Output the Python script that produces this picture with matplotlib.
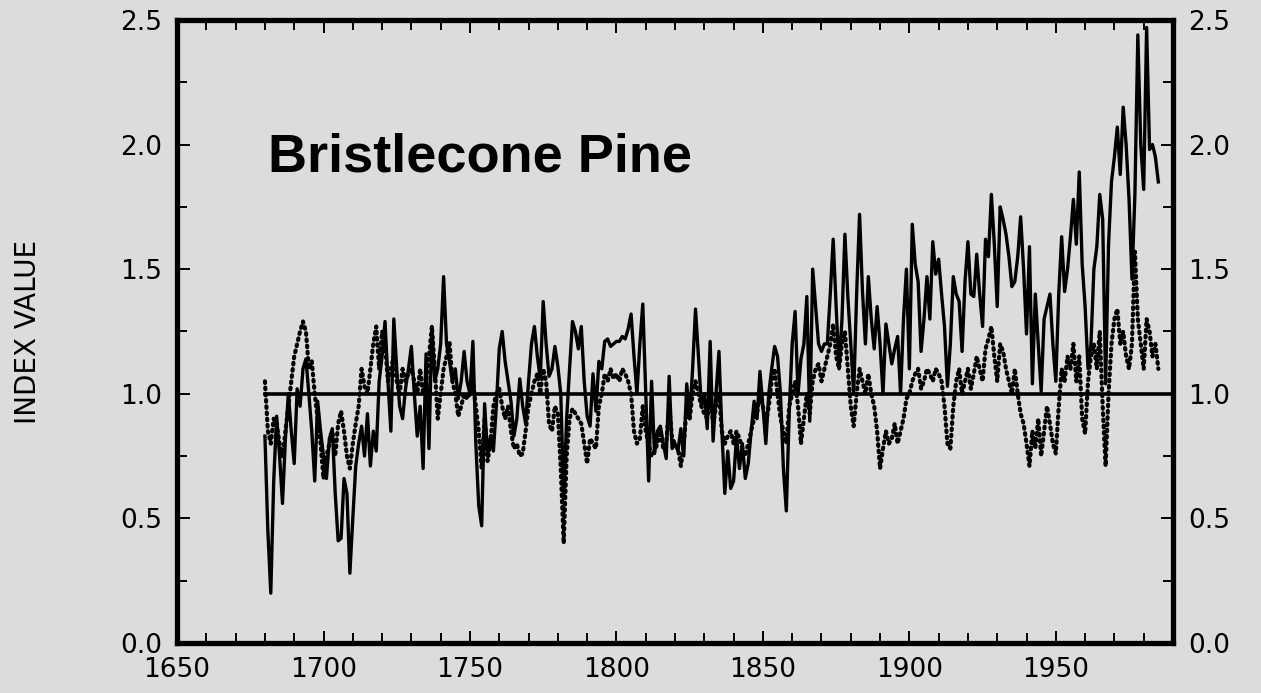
import matplotlib
matplotlib.use('Agg')
import matplotlib.pyplot as plt
import numpy as np

# Dane (indeks roczny, 1680-1985)
years = np.arange(1680, 1986)

solid_index = [
    0.83, 0.45, 0.20, 0.65, 0.91, 0.75, 0.56, 0.82, 1.00, 0.85,   # 1680
    0.72, 1.02, 0.95, 1.10, 1.14, 1.00, 0.85, 0.65, 0.97, 0.85,   # 1690
    0.75, 0.66, 0.82, 0.86, 0.60, 0.41, 0.42, 0.66, 0.60, 0.28,   # 1700
    0.50, 0.71, 0.80, 0.87, 0.75, 0.92, 0.71, 0.85, 0.77, 1.05,   # 1710
    1.15, 1.29, 1.05, 0.85, 1.30, 1.10, 0.95, 0.90, 1.02, 1.10,   # 1720
    1.19, 1.00, 0.83, 0.95, 0.70, 1.16, 0.78, 1.27, 1.05, 1.10,   # 1730
    1.20, 1.47, 1.20, 1.13, 1.05, 1.10, 0.98, 1.05, 1.17, 1.05,   # 1740
    1.00, 1.21, 0.80, 0.55, 0.47, 0.96, 0.75, 0.83, 0.77, 0.95,   # 1750
    1.18, 1.25, 1.13, 1.05, 0.97, 0.83, 0.90, 1.06, 0.95, 0.88,   # 1760
    1.05, 1.20, 1.27, 1.15, 1.06, 1.37, 1.20, 1.07, 1.10, 1.19,   # 1770
    1.11, 1.00, 0.58, 0.90, 1.10, 1.29, 1.25, 1.18, 1.27, 1.05,   # 1780
    0.91, 0.87, 1.08, 0.93, 1.13, 1.10, 1.21, 1.22, 1.19, 1.20,   # 1790
    1.21, 1.21, 1.23, 1.22, 1.26, 1.32, 1.15, 1.00, 1.20, 1.36,   # 1800
    1.00, 0.65, 1.05, 0.76, 0.85, 0.87, 0.80, 0.74, 1.07, 0.78,   # 1810
    0.80, 0.77, 0.86, 0.75, 1.04, 0.90, 1.10, 1.34, 1.15, 0.95,   # 1820
    1.00, 0.86, 1.21, 0.81, 1.00, 1.17, 0.85, 0.60, 0.77, 0.62,   # 1830
    0.65, 0.83, 0.70, 0.80, 0.66, 0.72, 0.85, 0.97, 0.90, 1.09,   # 1840
    0.95, 0.80, 1.00, 1.10, 1.19, 1.15, 1.00, 0.70, 0.53, 0.93,   # 1850
    1.20, 1.33, 1.00, 1.14, 1.20, 1.39, 0.89, 1.50, 1.35, 1.20,   # 1860
    1.17, 1.20, 1.20, 1.40, 1.62, 1.35, 1.10, 1.30, 1.64, 1.39,   # 1870
    1.20, 1.00, 1.40, 1.72, 1.41, 1.20, 1.47, 1.30, 1.18, 1.35,   # 1880
    1.20, 1.00, 1.28, 1.20, 1.12, 1.18, 1.23, 1.00, 1.30, 1.50,   # 1890
    1.10, 1.68, 1.52, 1.45, 1.17, 1.30, 1.47, 1.30, 1.61, 1.48,   # 1900
    1.54, 1.40, 1.27, 1.03, 1.20, 1.47, 1.40, 1.37, 1.17, 1.45,   # 1910
    1.61, 1.40, 1.39, 1.56, 1.40, 1.27, 1.62, 1.55, 1.80, 1.60,   # 1920
    1.35, 1.75, 1.70, 1.64, 1.55, 1.43, 1.45, 1.55, 1.71, 1.50,   # 1930
    1.24, 1.59, 1.04, 1.40, 1.20, 1.01, 1.30, 1.35, 1.40, 1.20,   # 1940
    1.05, 1.40, 1.63, 1.41, 1.50, 1.63, 1.78, 1.60, 1.89, 1.52,   # 1950
    1.35, 1.10, 1.20, 1.50, 1.59, 1.80, 1.70, 1.04, 1.60, 1.85,   # 1960
    1.95, 2.07, 1.88, 2.15, 2.00, 1.78, 1.46, 1.80, 2.44, 2.00,   # 1970
    1.82, 2.47, 1.98, 2.00, 1.95, 1.85,                           # 1980
]

dotted_index = [
    1.05, 0.85, 0.80, 0.90, 0.88, 0.80, 0.75, 0.85, 0.95, 1.05,   # 1680
    1.15, 1.20, 1.25, 1.29, 1.25, 1.10, 1.13, 1.00, 0.90, 0.80,   # 1690
    0.66, 0.75, 0.80, 0.85, 0.75, 0.88, 0.93, 0.85, 0.75, 0.70,   # 1700
    0.80, 0.88, 0.95, 1.10, 1.03, 1.00, 1.10, 1.20, 1.27, 1.10,   # 1710
    1.25, 1.20, 1.05, 1.10, 1.15, 1.05, 1.00, 1.10, 1.05, 1.08,   # 1720
    1.10, 1.05, 1.00, 1.10, 1.00, 1.05, 1.15, 1.27, 1.10, 0.90,   # 1730
    1.00, 1.10, 1.15, 1.21, 1.05, 1.00, 0.91, 0.95, 1.00, 0.98,   # 1740
    1.00, 1.05, 0.95, 0.85, 0.70, 0.90, 0.73, 0.80, 0.95, 1.00,   # 1750
    1.02, 0.95, 0.90, 0.95, 0.85, 0.78, 0.80, 0.75, 0.76, 0.85,   # 1760
    0.95, 1.00, 1.05, 1.08, 1.00, 1.10, 1.05, 0.88, 0.85, 0.95,   # 1770
    0.92, 0.70, 0.40, 0.75, 0.90, 0.94, 0.92, 0.90, 0.88, 0.80,   # 1780
    0.72, 0.82, 0.80, 0.78, 0.95, 1.00, 1.08, 1.05, 1.10, 1.06,   # 1790
    1.08, 1.05, 1.10, 1.08, 1.05, 1.00, 0.85, 0.80, 0.82, 0.95,   # 1800
    0.85, 0.80, 0.75, 0.77, 0.80, 0.85, 0.78, 0.80, 0.95, 0.82,   # 1810
    0.80, 0.78, 0.71, 0.80, 0.95, 0.90, 1.00, 1.05, 1.00, 0.95,   # 1820
    0.92, 0.90, 1.00, 0.88, 0.95, 1.00, 0.85, 0.80, 0.83, 0.85,   # 1830
    0.80, 0.85, 0.82, 0.78, 0.75, 0.80, 0.85, 0.90, 0.92, 1.00,   # 1840
    0.95, 0.88, 0.95, 1.05, 1.10, 1.00, 0.90, 0.85, 0.80, 0.95,   # 1850
    1.00, 1.05, 0.95, 0.80, 0.90, 1.00, 0.92, 1.05, 1.10, 1.12,   # 1860
    1.05, 1.10, 1.15, 1.20, 1.28, 1.15, 1.10, 1.20, 1.25, 1.10,   # 1870
    0.95, 0.87, 1.00, 1.10, 1.05, 1.00, 1.08, 1.00, 0.95, 0.85,   # 1880
    0.70, 0.78, 0.85, 0.80, 0.82, 0.88, 0.80, 0.85, 0.90, 0.98,   # 1890
    1.00, 1.05, 1.08, 1.10, 1.02, 1.05, 1.10, 1.08, 1.05, 1.10,   # 1900
    1.08, 1.05, 0.95, 0.80, 0.78, 0.95, 1.05, 1.10, 1.00, 1.05,   # 1910
    1.10, 1.02, 1.08, 1.15, 1.10, 1.05, 1.18, 1.22, 1.27, 1.15,   # 1920
    1.05, 1.20, 1.17, 1.10, 1.05, 1.00, 1.10, 1.00, 0.92, 0.88,   # 1930
    0.80, 0.71, 0.85, 0.78, 0.90, 0.75, 0.85, 0.95, 0.88, 0.80,   # 1940
    0.76, 0.95, 1.10, 1.05, 1.15, 1.10, 1.20, 1.05, 1.15, 0.90,   # 1950
    0.84, 1.05, 1.15, 1.20, 1.10, 1.25, 0.95, 0.71, 1.00, 1.20,   # 1960
    1.30, 1.34, 1.20, 1.25, 1.15, 1.10, 1.20, 1.57, 1.30, 1.20,   # 1970
    1.10, 1.30, 1.25, 1.15, 1.20, 1.10,                           # 1980
]

baseline_value = 1.0
baseline_span = [1680, 1990]
x_tick_labels = [1650, 1700, 1750, 1800, 1850, 1900, 1950]
y_tick_labels = [0.0, 0.5, 1.0, 1.5, 2.0, 2.5]

bg = '#dcdcdc'
fig = plt.figure(figsize=(12.61, 6.93), dpi=100, facecolor=bg)
ax = fig.add_axes([0.1404, 0.0722, 0.7898, 0.8990], facecolor=bg)

# linia odniesienia 1.0
ax.plot(baseline_span, [baseline_value, baseline_value], color='black', lw=2.6, zorder=2)

ax.plot(years, dotted_index, color='black', lw=3.0,
        linestyle=(0, (0.4, 1.1)), dash_capstyle='round', zorder=3)
ax.plot(years, solid_index, color='black', lw=2.4, zorder=4)

ax.set_xlim(1650, 1990)
ax.set_ylim(0, 2.5)

ax.set_xticks(x_tick_labels)
ax.set_xticklabels([str(v) for v in x_tick_labels])
ax.set_xticks(np.arange(1650, 1991, 10), minor=True)
ax.set_yticks(y_tick_labels)
ax.set_yticklabels(['%.1f' % v for v in y_tick_labels])
ax.set_yticks(np.arange(0, 2.51, 0.25), minor=True)

ax.tick_params(which='both', direction='in', top=True, right=True,
               labelright=True, width=1.4, colors='black')
ax.tick_params(which='major', length=9, labelsize=19, pad=11)
ax.tick_params(which='minor', length=7)
ax.tick_params(axis='x', which='major', pad=10)

for s in ax.spines.values():
    s.set_linewidth(3.8)

ax.set_ylabel('INDEX VALUE', fontsize=20, labelpad=56)

ax.text(1681, 1.89, 'Bristlecone Pine', fontsize=39, fontweight='bold',
        family='Liberation Sans', va='baseline', ha='left')

fig.savefig('out.png', dpi=100, facecolor=bg)
